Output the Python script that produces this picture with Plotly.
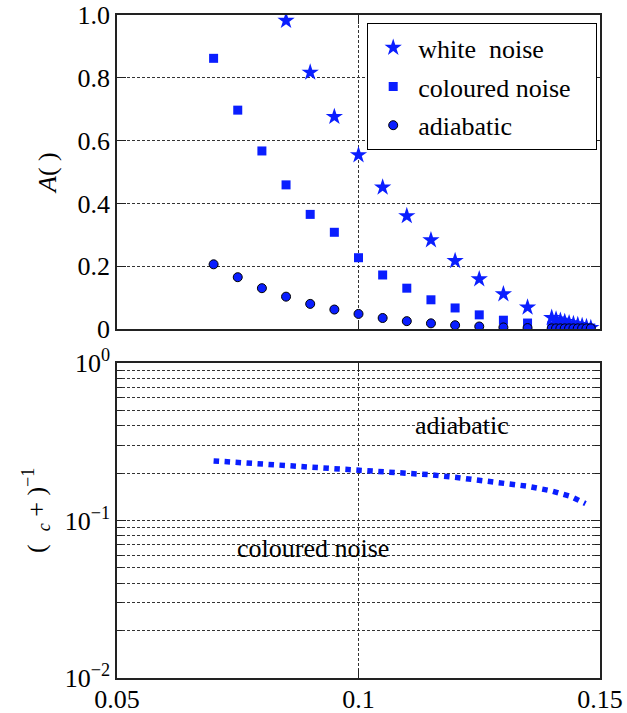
import plotly.graph_objects as go
from plotly.subplots import make_subplots

# ---- data ----
white_x = [0.085, 0.09, 0.095, 0.10, 0.105, 0.11, 0.115, 0.12, 0.125, 0.13, 0.135,
           0.1400, 0.1409, 0.1418, 0.1427, 0.1436, 0.1445, 0.1454, 0.1463, 0.1472, 0.1481]
white_y = [0.982, 0.817, 0.676, 0.554, 0.451, 0.360, 0.283, 0.217, 0.159, 0.111, 0.069,
           0.036, 0.031, 0.027, 0.023, 0.019, 0.016, 0.013, 0.010, 0.007, 0.004]

col_x = [0.07, 0.075, 0.08, 0.085, 0.09, 0.095, 0.10, 0.105, 0.11, 0.115, 0.12, 0.125, 0.13, 0.135,
         0.1400, 0.1409, 0.1418, 0.1427, 0.1436, 0.1445, 0.1454, 0.1463, 0.1472, 0.1481]
col_y = [0.862, 0.697, 0.567, 0.459, 0.365, 0.308, 0.227, 0.172, 0.130, 0.093, 0.067, 0.045, 0.028, 0.019,
         0.010, 0.009, 0.008, 0.007, 0.006, 0.005, 0.004, 0.004, 0.003, 0.003]

adi_x = [0.07, 0.075, 0.08, 0.085, 0.09, 0.095, 0.10, 0.105, 0.11, 0.115, 0.12, 0.125, 0.13, 0.135,
         0.1400, 0.1409, 0.1418, 0.1427, 0.1436, 0.1445, 0.1454, 0.1463, 0.1472, 0.1481]
adi_y = [0.206, 0.165, 0.130, 0.103, 0.080, 0.062, 0.048, 0.035, 0.025, 0.018, 0.012, 0.008, 0.005, 0.003,
         0.002, 0.002, 0.002, 0.002, 0.002, 0.002, 0.002, 0.002, 0.002, 0.002]

curve_x = [0.070, 0.075, 0.080, 0.085, 0.090, 0.095, 0.100, 0.105, 0.110, 0.115,
           0.120, 0.125, 0.130, 0.135, 0.140, 0.144, 0.147]
curve_y = [0.239, 0.234, 0.230, 0.223, 0.218, 0.213, 0.209, 0.205, 0.200, 0.195,
           0.188, 0.181, 0.173, 0.165, 0.154, 0.142, 0.128]

top_ticks = [0, 0.2, 0.4, 0.6, 0.8, 1.0]
top_tick_text = ["0", "0.2", "0.4", "0.6", "0.8", "1.0"]
x_ticks = [0.05, 0.1, 0.15]
x_tick_text = ["0.05", "0.1", "0.15"]
log_ticks = [0.01, 0.1, 1]
log_tick_text = ["10<sup>\u22122</sup>", "10<sup>\u22121</sup>", "10<sup>0</sup>"]

FONT = "Liberation Serif, Times New Roman, serif"
BLUE = "#0a1eff"
FS = 26

fig = make_subplots(rows=2, cols=1, vertical_spacing=0.05)

fig.add_trace(go.Scatter(x=white_x, y=white_y, mode="markers", name="white  noise",
                         legendgroup="a",
                         marker=dict(symbol="star", size=13, color=BLUE, line=dict(width=0))),
              row=1, col=1)
fig.add_trace(go.Scatter(x=col_x, y=col_y, mode="markers", name="coloured noise\u00a0\u00a0\u00a0",
                         legendgroup="b",
                         marker=dict(symbol="square", size=9, color=BLUE, line=dict(width=0))),
              row=1, col=1)
fig.add_trace(go.Scatter(x=adi_x, y=adi_y, mode="markers", name="adiabatic",
                         legendgroup="c",
                         marker=dict(symbol="circle", size=9, color=BLUE, line=dict(width=1, color="black"))),
              row=1, col=1)
fig.add_trace(go.Scatter(x=curve_x, y=curve_y, mode="lines", showlegend=False,
                         line=dict(color=BLUE, width=5.5, dash="dot")),
              row=2, col=1)

grid = dict(showgrid=True, gridcolor="#333333", gridwidth=1, griddash="3px,2px")
axis_common = dict(showline=True, linecolor="#222222", linewidth=1.5, mirror="allticks",
                   ticks="inside", ticklen=9, tickcolor="#222222", tickwidth=1.2,
                   zeroline=False, tickfont=dict(family=FONT, size=FS, color="black"))

fig.update_xaxes(range=[0.05, 0.15], tickvals=x_ticks, ticktext=x_tick_text, **grid, **axis_common)
fig.update_xaxes(showticklabels=False, row=1, col=1)
fig.update_xaxes(ticklabelstandoff=-3, row=2, col=1)
fig.update_xaxes(domain=[0, 1])
fig.update_yaxes(range=[0, 1.0], tickvals=top_ticks, ticktext=top_tick_text, **grid, **axis_common,
                 domain=[0.5264, 1.0], row=1, col=1)
fig.update_yaxes(type="log", range=[-2, 0], tickvals=log_ticks, ticktext=log_tick_text,
                 **grid, **axis_common, domain=[0.0, 0.4751],
                 minor=dict(ticks="inside", ticklen=5, tickcolor="#222222", showgrid=True,
                            gridcolor="#333333", griddash="3px,2px", dtick="D1"),
                 row=2, col=1)

W, H = 627, 713
l, r, t, b = 117, 27, 15, 35
pw, ph = W - l - r, H - t - b


def px_to_paper(px, py):
    return (px - l) / pw, (H - b - py) / ph


ax1, ay1 = px_to_paper(47, 173)
ax2, ay2 = px_to_paper(36, 511)
lx, ly = px_to_paper(367, 23)

fig.update_layout(
    width=W, height=H,
    margin=dict(l=l, r=r, t=t, b=b, autoexpand=False),
    paper_bgcolor="white", plot_bgcolor="white",
    font=dict(family=FONT, size=FS, color="black"),
    legend=dict(x=lx, y=ly, xanchor="left", yanchor="top",
                bgcolor="white", bordercolor="black", borderwidth=1.2,
                font=dict(family=FONT, size=FS, color="black"),
                tracegroupgap=2, itemwidth=40),
    annotations=[
        dict(text="<i>A</i>( )", x=ax1, y=ay1, xref="paper", yref="paper", showarrow=False,
             xanchor="center", yanchor="middle",
             textangle=-90, font=dict(family=FONT, size=FS)),
        dict(text="(  <sub><i>c</i></sub> + )<sup>\u22121</sup>", x=ax2, y=ay2,
             xref="paper", yref="paper", showarrow=False,
             xanchor="center", yanchor="middle",
             textangle=-90, font=dict(family=FONT, size=FS)),
        dict(text="adiabatic", x=0.1215, y=-0.394, xref="x2", yref="y2", showarrow=False,
             font=dict(family=FONT, size=FS)),
        dict(text="coloured noise", x=0.0906, y=-1.175, xref="x2", yref="y2", showarrow=False,
             font=dict(family=FONT, size=FS)),
    ],
)

fig.write_html("out.html", config={"displayModeBar": False},
               post_script="document.body.style.margin='0';")
